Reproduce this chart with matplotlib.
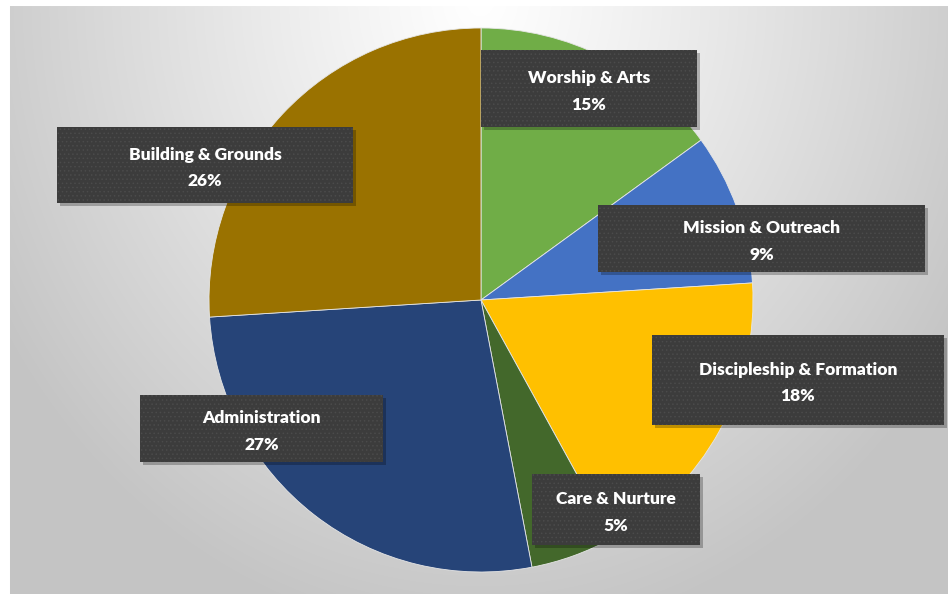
import numpy as np
import matplotlib.pyplot as plt
from matplotlib.patches import Rectangle

# data -----------------------------------------------------------------
categories = ["Worship & Arts", "Mission & Outreach", "Discipleship & Formation",
              "Care & Nurture", "Administration", "Building & Grounds"]
shares = [15, 9, 18, 5, 27, 26]
colors = ["#70AD47", "#4472C4", "#FFC000", "#43682B", "#264478", "#9A7200"]

# label boxes (x0, y0, x1, y1) in pixels measured from the top left
boxes = [(481, 50, 697, 127), (598, 205, 925, 272), (652, 335, 944, 425),
         (532, 474, 700, 545), (140, 395, 383, 462), (57, 127, 353, 203)]

W, H = 948, 594
plt.rcParams['font.family'] = ['Lato', 'DejaVu Sans']
plt.rcParams['hatch.linewidth'] = 0.6

fig = plt.figure(figsize=(W / 100, H / 100), dpi=100)
ax = fig.add_axes([0, 0, 1, 1])

# background: white margin + soft radial grey gradient
xx, yy = np.meshgrid(np.arange(W), np.arange(H))
d = np.sqrt(((xx - 480) / 560.0) ** 2 + ((yy - 0) / 640.0) ** 2)
g = 1.0 - 0.23 * np.clip(d, 0, 1) ** 1.1
img = np.dstack([g, g, g])
img[:6, :, :] = 1.0
img[:, :10, :] = 1.0
ax.imshow(img, extent=(0, W, -2, H), origin='upper', zorder=0, interpolation='bilinear')

# pie ------------------------------------------------------------------
ax.pie(shares, colors=colors, startangle=90, counterclock=False,
       center=(481, H - 300), radius=272, frame=True,
       wedgeprops=dict(edgecolor='#e6e6e6', linewidth=0.6))
ax.set_xlim(0, W)
ax.set_ylim(0, H)
ax.set_aspect('auto')
ax.axis('off')

# labels ---------------------------------------------------------------
for name, val, (x0, y0, x1, y1) in zip(categories, shares, boxes):
    w, h = x1 - x0, y1 - y0
    ax.add_patch(Rectangle((x0 + 3, H - y1 - 3), w, h, facecolor='black',
                           alpha=0.25, linewidth=0, zorder=4))
    ax.add_patch(Rectangle((x0, H - y1), w, h, facecolor='#3c3c3c',
                           edgecolor='#4b4b4b', hatch='....', linewidth=0, zorder=5))
    cx = (x0 + x1) / 2
    cy = H - (y0 + y1) / 2 - 3
    ax.text(cx, cy, f"{name}\n{val}%", ha='center', va='center', color='white',
            fontsize=12.5, fontweight='heavy', linespacing=1.8, zorder=6)

fig.savefig('out.png', dpi=100)
